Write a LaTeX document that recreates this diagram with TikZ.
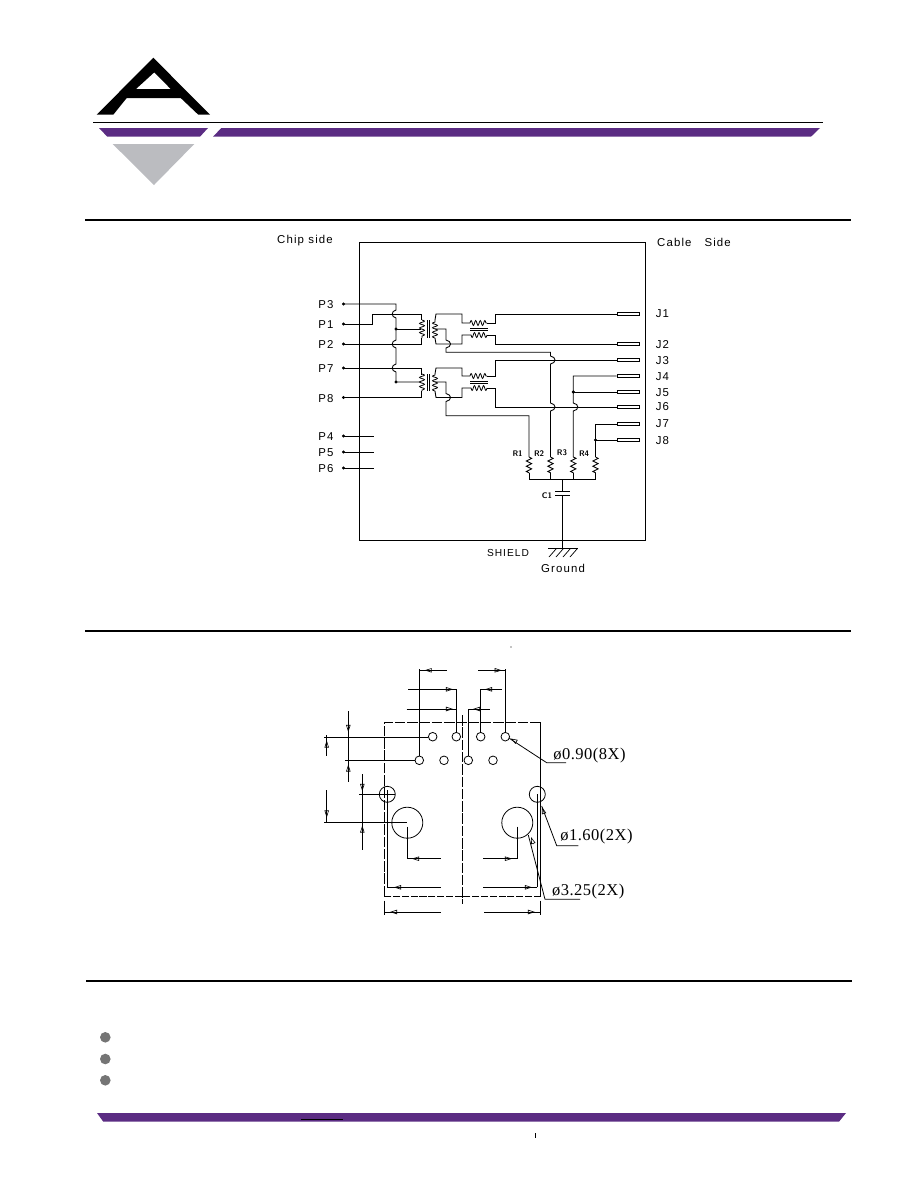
\documentclass[tikz,border=0pt]{standalone}
\usepackage{fontspec}
\setmainfont{Liberation Serif}
\newfontfamily\pinfont[LetterSpace=10]{Liberation Sans}
\newfontfamily\calloutfont[LetterSpace=3]{Liberation Serif}
\usetikzlibrary{arrows.meta}
\usetikzlibrary{decorations.pathmorphing}
\definecolor{barpurple}{HTML}{5B2C83}
\definecolor{logogray}{HTML}{BBBCC0}
\definecolor{bulletgray}{HTML}{757575}
% one hop of a vertical wire over a crossing one
\newcommand{\hopwire}[3]{-- (#1,#2-4) .. controls (#1+#3,#2-3) and (#1+#3,#2+3) .. (#1,#2+4)}
\tikzset{
  wire/.style={line width=0.5pt},
  pinlabel/.style={font=\pinfont\fontsize{6.5}{7}\selectfont,inner sep=0pt},
  partlabel/.style={font=\fontsize{4.6}{5}\sffamily\bfseries\selectfont,inner sep=0pt},
  callout/.style={font=\calloutfont\fontsize{9.4}{11}\selectfont,inner sep=0pt,anchor=west},
  jackpin/.style={draw,line width=0.5pt,fill=white,minimum width=13pt,minimum height=2pt,inner sep=0pt},
  winding/.style={line width=0.45pt,decorate,decoration={coil,aspect=0,amplitude=1.4pt,segment length=2.6pt}},
  resistor/.style={line width=0.5pt,decorate,decoration={zigzag,amplitude=1.5pt,segment length=3pt}},
  dimline/.style={line width=0.5pt},
  dimtip/.style={line width=0.35pt,-{Triangle[open,length=4pt,width=2.5pt]}},
  hole/.style={line width=0.45pt},
}
\begin{document}
\begin{tikzpicture}[x=0.02cm,y=-0.02cm]
  \useasboundingbox (0,0) rectangle (918,1188);
  % logo and header bars
  \fill[even odd rule,black] (153.3,57.7) -- (96.7,114.7) -- (113.3,114.7) -- (126.7,98) -- (180.7,98)
    -- (198.3,114.7) -- (210,114.7) -- cycle (154.3,72.3) -- (136,89) -- (170.7,89) -- cycle;
  \draw[line width=0.5pt] (93,122.3) -- (823,122.3);
  \fill[barpurple] (99,128) -- (208,128) -- (200,136.7) -- (107.3,136.7) -- cycle;
  \fill[barpurple] (221.3,128) -- (820,128) -- (811,136.7) -- (213,136.7) -- cycle;
  \fill[logogray] (112.7,144) -- (194.3,144) -- (154,185) -- cycle;
  % section rules
  \draw[line width=1.1pt] (85,220) -- (851,220);
  \draw[line width=1.1pt] (85,631) -- (851,631);
  \draw[line width=1.1pt] (86,981) -- (852,981);

  % schematic
  \draw[wire] (359,242) rectangle (645,540);
  \node[pinlabel] (chip) at (305,241) {Chip side};
  \node[pinlabel] (cable) at (694,242) {Cable\ \ \ Side};
  \foreach \name/\y in {P3/304,P1/324,P2/344,P7/368,P8/397.5,P4/436,P5/452,P6/468} {
    \node[pinlabel] (\name) at (326,\y+1) {\name};
    \coordinate (\name pin) at (343.5,\y);
    \draw[fill=black] (\name pin) circle (0.7pt);
  }
  \foreach \name/\y/\ly in {J1/314/313,J2/344/344,J3/360/360,J4/376/376,J5/392/392,J6/407/406,J7/424/423,J8/440/440} {
    \node[pinlabel] (\name) at (662.5,\ly+1) {\name};
    \node[jackpin] (\name pin) at (628.5,\y) {};
  }
  \foreach \name in {P4,P5,P6}
    \draw[wire] (\name pin) -- ++(30.5,0);
  % chip side wires
  \draw[wire] (P3pin) -- (396,304) \hopwire{396}{314}{-5} \hopwire{396}{344}{-5} \hopwire{396}{368}{-5} -- (396,382) -- (421,382);
  \draw[wire] (P1pin) -- (372,324) -- (372,314) -- (421,314) -- (421,320);
  \draw[wire] (P2pin) -- (421,344) -- (421,338);
  \draw[wire] (396,329) -- (421,329);
  \draw[wire] (P7pin) -- (421,368) -- (421,375);
  \draw[wire] (P8pin) -- (421,397.5) -- (421,391);
  \draw[fill=black] (396,329) circle (0.7pt);
  \draw[fill=black] (396,382) circle (0.7pt);
  % transformers
  \foreach \ya/\yb in {320/338,374/391} {
    \draw[winding] (422,\ya) -- (422,\yb);
    \draw[winding] (435,\yb) -- (435,\ya);
    \draw[line width=0.5pt] (427.3,\ya) -- (427.3,\yb);
    \draw[line width=0.5pt] (429.6,\ya) -- (429.6,\yb);
  }
  % common mode chokes
  \foreach \ya/\yb/\yc/\yd in {323/335/328/330.5,376/388/381/383.5} {
    \draw[winding] (470,\ya) -- (487,\ya);
    \draw[winding] (487,\yb) -- (470,\yb);
    \draw[line width=0.5pt] (470,\yc) -- (488,\yc);
    \draw[line width=0.5pt] (470,\yd) -- (488,\yd);
  }
  % cable side wires
  \draw[wire] (435,320) -- (436,314) -- (462,314) -- (462,323) -- (470,323);
  \draw[wire] (487,323) -- (495,323) -- (495,314) -- (J1pin.west);
  \draw[wire] (435,338) -- (436,344) -- (462,344) -- (462,335) -- (470,335);
  \draw[wire] (487,335) -- (495,335) -- (495,344) -- (J2pin.west);
  \draw[wire] (435,374) -- (436,368) -- (462,368) -- (462,376) -- (470,376);
  \draw[wire] (487,376) -- (495,376) -- (495,360) -- (J3pin.west);
  \draw[wire] (435,391) -- (436,397.5) -- (462,397.5) -- (462,388) -- (470,388);
  \draw[wire] (487,388) -- (495,388) -- (495,407) -- (J6pin.west);
  % center taps
  \draw[wire] (435,329) -- (446,329) \hopwire{446}{344}{6} -- (446,352.3) -- (550.5,352.3) \hopwire{550.5}{360}{6} \hopwire{550.5}{407}{6} -- (550.5,457) coordinate (R2top);
  \draw[wire] (435,382) -- (446,382) \hopwire{446}{397.5}{6} -- (446,415.7) -- (529,415.7) -- (529,457) coordinate (R1top);
  \draw[wire] (J4pin.west) -- (573.3,376) \hopwire{573.3}{407}{6} -- (573.3,457) coordinate (R3top);
  \draw[wire] (J5pin.west) -- (573.3,392);
  \draw[wire] (J7pin.west) -- (595.5,424) -- (595.5,457) coordinate (R4top);
  \draw[wire] (J8pin.west) -- (595.5,440);
  \draw[fill=black] (573.3,392) circle (0.7pt);
  \draw[fill=black] (595.5,440) circle (0.7pt);
  % terminating resistors
  \foreach \name/\x in {R1/529,R2/550.5,R3/573.3,R4/595.5} {
    \draw[resistor] (\name top) -- (\x,473);
    \draw[wire] (\x,473) -- (\x,479.3);
    \node[partlabel,anchor=south east] (\name) at (\x-6,456.5) {\name};
  }
  \coordinate (busmid) at (562.3,479.3);
  \draw[wire] (R1top |- busmid) -- (R4top |- busmid);
  \draw[wire] (busmid) -- (562.3,491.3);
  \draw[wire] (555,491.3) -- (569.5,491.3);
  \draw[wire] (555,495.7) -- (569.5,495.7);
  \node[partlabel] (C1) at (547,496) {C1};
  \coordinate (gnd) at (562.3,548.5);
  \draw[wire] (562.3,495.7) -- (gnd);
  \draw[wire] (548,548.5) -- (578,548.5);
  \foreach \x in {556,563,570,577}
    \draw[line width=0.4pt] (\x,549) -- ++(-7,8);
  \node[pinlabel,font=\pinfont\fontsize{5.8}{7}\selectfont] (shield) at (508,552.5) {SHIELD};
  \node[pinlabel] (ground) at (563,568) {Ground};

  % footprint
  \draw[line width=0.5pt,dash pattern=on 6pt off 1pt] (384.3,896.3) -- (384.3,722.3) -- (540.7,722.3);
  \draw[line width=0.5pt] (540.7,722.3) -- (540.7,896.3);
  \draw[line width=0.5pt,dash pattern=on 4pt off 1pt] (540.7,896.3) -- (384.3,896.3);
  \draw[line width=0.5pt,dash pattern=on 6pt off 1pt] (462.3,715) -- (462.3,904);
  \foreach \x in {432.7,456.3,480.7,505.3}
    \draw[hole] (\x,736.7) circle (4.3);
  \foreach \x in {419.3,444,468.3,493}
    \draw[hole] (\x,760.3) circle (4.3);
  \draw[hole] (387.3,794.3) circle (8);
  \draw[hole] (537.3,794.3) circle (8);
  \draw[hole] (407.3,822.7) circle (15.5);
  \draw[hole] (517.3,822.7) circle (15.5);
  % extension and dimension lines
  \draw[dimline] (419.3,756) -- (419.3,669) (419.3,670.3) -- (446.7,670.3);
  \draw[dimline] (505.3,733) -- (505.3,669) (505.3,670.3) -- (478.3,670.3);
  \draw[dimline] (408.3,689.3) -- (456.5,689.3) (456.5,689.3) -- (456.5,733);
  \draw[dimline] (501.7,689.3) -- (480.7,689.3) (480.7,689.3) -- (480.7,733);
  \draw[dimline] (406.7,709) -- (456.5,709) (468.3,709) -- (490,709) (468.3,709) -- (468.3,756);
  \draw[dimline] (348.3,711) -- (348.3,781.7);
  \draw[dimline] (324.3,737) -- (428.4,737) (345,760.3) -- (415,760.3);
  \draw[dimline] (326.7,735) -- (326.7,755.7) (326.7,790) -- (326.7,822.7);
  \draw[dimline] (324.3,822.7) -- (407.3,822.7);
  \draw[dimline] (362.3,774) -- (362.3,850) (359.3,794.3) -- (395,794.3);
  \draw[dimline] (387.3,790) -- (387.3,887.3) (387.3,887.3) -- (440.7,887.3);
  \draw[dimline] (537.3,794.3) -- (537.3,887.3) (537.3,887.3) -- (483.3,887.3);
  \draw[dimline] (407.3,826.7) -- (407.3,858.7) (407.3,858.7) -- (440.7,858.7);
  \draw[dimline] (517.3,826.7) -- (517.3,858.7) (517.3,858.7) -- (483.3,858.7);
  \draw[dimline] (384.3,900.7) -- (384.3,915) (384.3,912) -- (440.7,912);
  \draw[dimline] (540.7,900.7) -- (540.7,915) (540.7,912) -- (484,912);
  % tips
  \foreach \xa/\ya/\xb/\yb in {431.7/670.3/424.7/670.3,494.7/670.3/501.7/670.3,
      446/689.3/453/689.3,492/689.3/485/689.3,446/709/453/709,480/709/473/709,
      348.3/725/348.3/732,348.3/771.5/348.3/764.5,326.7/747.5/326.7/740.5,326.7/810.5/326.7/817.5,
      362.3/784/362.3/791,362.3/832.5/362.3/825.5,
      401/887.3/394/887.3,525/887.3/532/887.3,
      419/858.7/412/858.7,505/858.7/512/858.7,
      397/912/390/912,528/912/535/912,
      516.5/741.8/510.5/738.5,544/813.5/542/807,533.5/844/531/837}
    \draw[dimtip] (\xa,\ya) -- (\xb,\yb);
  % callouts
  \node[callout] (hole90) at (553,755.7) {ø0.90(8X)};
  \node[callout] (hole160) at (560,836.7) {ø1.60(2X)};
  \node[callout] (hole325) at (551.7,891.7) {ø3.25(2X)};
  \draw[line width=0.45pt] (509.3,738.3) -- (546.7,762.7) -- (566,762.7);
  \draw[line width=0.45pt] (541.7,806) -- (556.7,845.7) -- (578.3,845.7);
  \draw[line width=0.45pt] (528.3,835) -- (545,899.3) -- (580,899.3);
  \fill (511,647) circle (0.3pt);

  % bullets and footer
  \foreach \y in {1037.3,1059,1080.3}
    \fill[bulletgray] (105.3,\y) circle (5.3);
  \fill[barpurple] (97,1113) -- (846,1113) -- (839,1121.7) -- (103.3,1121.7) -- cycle;
  \draw[line width=0.5pt] (301,1119.3) -- (343,1119.3);
  \draw[line width=0.5pt] (535.5,1133.3) -- (535.5,1137.7);
\end{tikzpicture}
\end{document}
